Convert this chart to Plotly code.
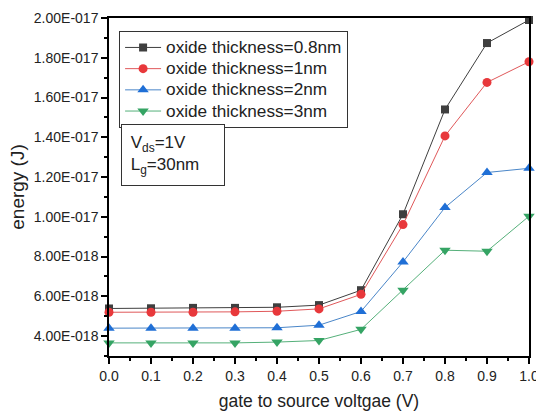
import plotly.graph_objects as go

vgs = [0.0, 0.1, 0.2, 0.3, 0.4, 0.5, 0.6, 0.7, 0.8, 0.9, 1.0]
e_08nm = [5.39, 5.40, 5.42, 5.42, 5.45, 5.56, 6.31, 10.13, 15.40, 18.74, 19.90]
e_1nm = [5.20, 5.20, 5.20, 5.22, 5.25, 5.37, 6.10, 9.61, 14.07, 16.76, 17.80]
e_2nm = [4.40, 4.40, 4.40, 4.40, 4.42, 4.55, 5.24, 7.73, 10.47, 12.23, 12.44]
e_3nm = [3.66, 3.66, 3.66, 3.66, 3.70, 3.78, 4.34, 6.31, 8.32, 8.27, 10.03]
scale = 1e-18
names = ["oxide thickness=0.8nm", "oxide thickness=1nm", "oxide thickness=2nm", "oxide thickness=3nm"]
ytick_vals = [4e-18, 6e-18, 8e-18, 1e-17, 1.2e-17, 1.4e-17, 1.6e-17, 1.8e-17, 2e-17]
xtick_vals = [0.0, 0.1, 0.2, 0.3, 0.4, 0.5, 0.6, 0.7, 0.8, 0.9, 1.0]


def fmt(v):
    m, e = f"{v:.2E}".split("E")
    sign = "-" if int(e) < 0 else "+"
    return f"{m}E{sign}{abs(int(e)):03d}"


series = [e_08nm, e_1nm, e_2nm, e_3nm]
colors = ["#3f3f3f", "#e8383b", "#1f6fd6", "#35a464"]
lines = ["#3f3f3f", "#e0585a", "#4a86c8", "#55b07a"]
symbols = ["square", "circle", "triangle-up", "triangle-down"]
sizes = [8, 9, 10, 10]

fig = go.Figure()
for nm, s, c, lc, sym, sz in zip(names, series, colors, lines, symbols, sizes):
    fig.add_trace(go.Scatter(
        x=vgs, y=[v * scale for v in s],
        name=f"<span style='font-size:17.2px'>{nm}</span>",
        mode="lines+markers",
        line=dict(color=lc, width=1),
        marker=dict(symbol=sym, color=c, size=sz),
        cliponaxis=False,
    ))

font = "Liberation Sans, Arial, sans-serif"
fig.update_layout(
    width=536, height=416,
    margin=dict(l=109, r=7, t=18, b=60),
    paper_bgcolor="white", plot_bgcolor="white",
    font=dict(family=font, color="#222222"),
    showlegend=True,
    legend=dict(
        x=0.024, y=0.962, xanchor="left", yanchor="top",
        bgcolor="white", bordercolor="#333333", borderwidth=1,
        font=dict(size=14, family=font), tracegroupgap=0,
        itemwidth=36,
    ),
    xaxis=dict(
        range=[0, 1], tickvals=xtick_vals, ticktext=[f"{v:.1f}" for v in xtick_vals],
        ticks="outside", ticklen=6, tickwidth=1.5, tickcolor="black",
        showline=True, linecolor="black", linewidth=1.5, mirror=True,
        showgrid=False, zeroline=False, automargin=False,
        ticklabeloverflow="allow",
        minor=dict(dtick=0.05, ticks="outside", ticklen=3, tickcolor="black", tickwidth=1.5),
        tickfont=dict(size=14),
        title=dict(text="gate to source voltgae (V)", font=dict(size=17.5), standoff=12),
    ),
    yaxis=dict(
        range=[3e-18, 2e-17], tickvals=ytick_vals, ticktext=[fmt(v) for v in ytick_vals],
        ticks="outside", ticklen=6, tickwidth=1.5, tickcolor="black",
        showline=True, linecolor="black", linewidth=1.5, mirror=True,
        showgrid=False, zeroline=False, automargin=False,
        ticklabeloverflow="allow",
        minor=dict(tickvals=[3e-18, 5e-18, 7e-18, 9e-18, 1.1e-17, 1.3e-17, 1.5e-17, 1.7e-17, 1.9e-17],
                   ticks="outside", ticklen=3, tickcolor="black", tickwidth=1.5),
        tickfont=dict(size=14),
        title=dict(text="energy (J)", font=dict(size=19), standoff=4),
    ),
)

fig.add_annotation(
    xref="paper", yref="paper", x=0.029, y=0.686, xanchor="left", yanchor="top",
    text="\u00a0V<sub>ds</sub>=1V<br>\u00a0L<sub>g</sub>=30nm", showarrow=False, align="left",
    font=dict(size=17, family=font, color="#222222"),
    width=94, height=52,
    bordercolor="#333333", borderwidth=1, borderpad=4, bgcolor="white",
)

fig.write_html("out.html", config={"displayModeBar": False},
               post_script="document.body.style.margin='0';document.body.style.overflow='hidden';")
